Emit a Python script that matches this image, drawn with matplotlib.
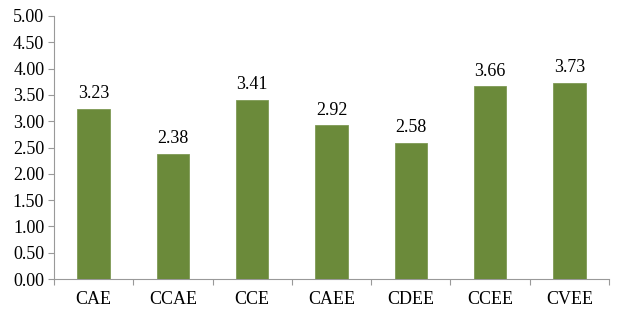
import matplotlib
matplotlib.use("Agg")
import matplotlib.pyplot as plt
import numpy as np

categories = ["CAE", "CCAE", "CCE", "CAEE", "CDEE", "CCEE", "CVEE"]
values = [3.23, 2.38, 3.41, 2.92, 2.58, 3.66, 3.73]
yticks = [0.0, 0.5, 1.0, 1.5, 2.0, 2.5, 3.0, 3.5, 4.0, 4.5, 5.0]

plt.rcParams['font.family'] = ['Liberation Serif', 'DejaVu Serif']
fig = plt.figure(figsize=(6.23, 3.19), dpi=100)
ax = fig.add_axes([54/623, 1 - 279/319, (609-54)/623, (279-16)/319])

x = np.arange(len(categories))
ax.bar(x, values, width=0.41, color='#6b8a3a', edgecolor='#7f9a55', linewidth=0.6, zorder=3)
for xi, v in zip(x, values):
    ax.text(xi, v + 0.13, f"{v:.2f}", ha='center', va='bottom', fontsize=13)

ax.set_xlim(-0.5, len(categories) - 0.5)
ax.set_ylim(0, 5)
ax.set_yticks(yticks)
ax.set_yticklabels([f"{t:.2f}" for t in yticks], fontsize=13)
ax.set_xticks(x)
ax.set_xticklabels(categories, fontsize=13)
ax.tick_params(axis='x', length=0, pad=9)
ax.set_xticks(np.arange(len(categories) + 1) - 0.5, minor=True)
ax.tick_params(axis='x', which='minor', length=4, color='#999999', width=0.8)
ax.tick_params(axis='y', length=4, color='#999999', width=0.8, pad=3)

for s in ['top', 'right']:
    ax.spines[s].set_visible(False)
for s in ['left', 'bottom']:
    ax.spines[s].set_color('#999999')
    ax.spines[s].set_linewidth(0.8)

fig.savefig("out.png", dpi=100)
